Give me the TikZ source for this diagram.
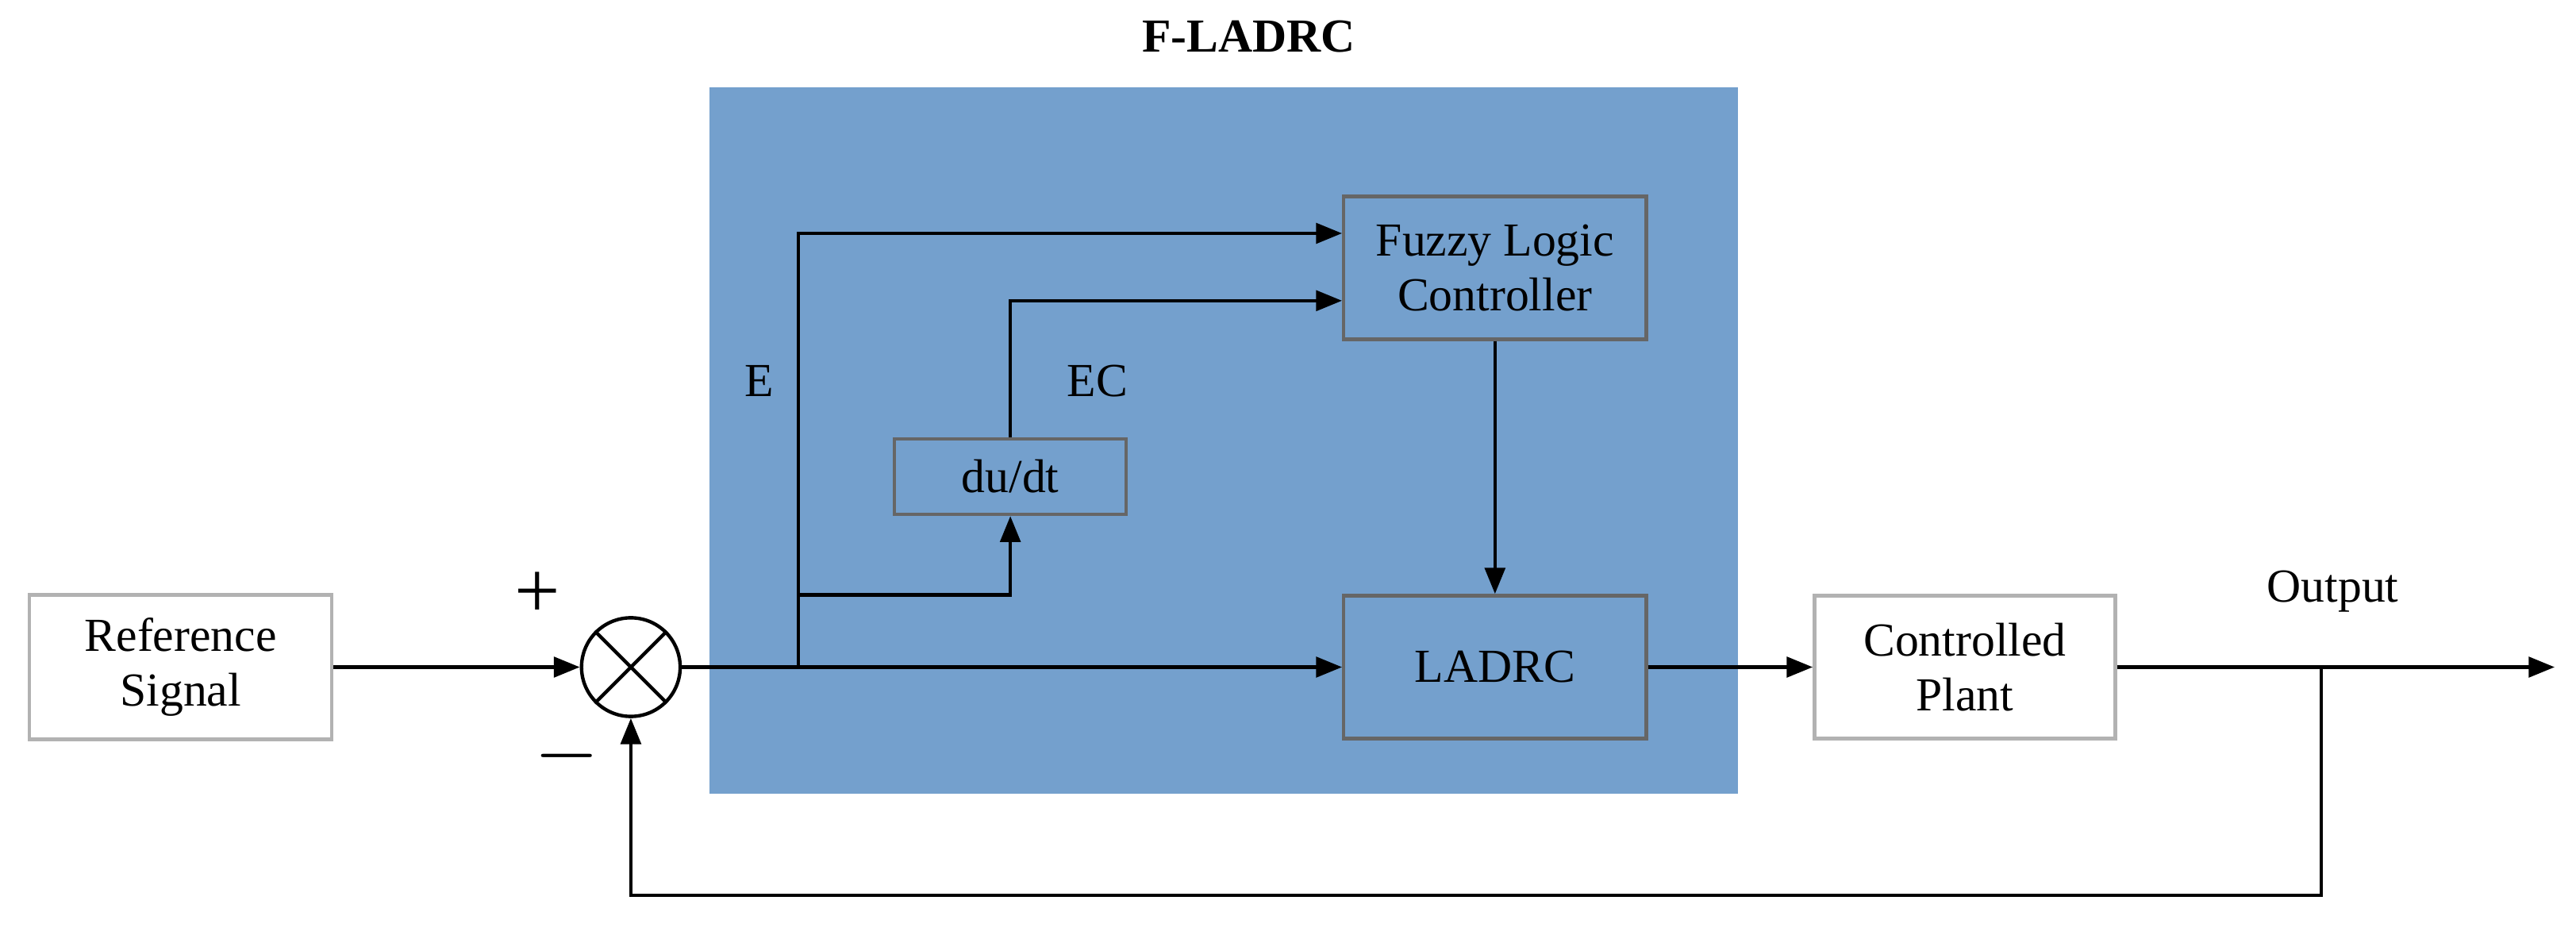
\documentclass[tikz,border=0pt]{standalone}
\usepackage{fontspec}
\setmainfont{Liberation Serif}
\usetikzlibrary{arrows.meta}
\definecolor{bluebg}{RGB}{116,160,205}
\begin{document}
\begin{tikzpicture}[x=0.01cm,y=-0.01cm,
  font=\fontsize{8.2}{9.5}\selectfont,
  line width=0.6pt,
  arr/.style={-{Triangle[length=4.5pt,width=3.5pt]}},
  wbox/.style={draw=gray!60,fill=white,align=center,minimum width=184\pgflinewidth,inner sep=0pt},
  bbox/.style={draw=gray!80!black,fill=bluebg,align=center,inner sep=0pt}]
\useasboundingbox (0,0) rectangle (1568,569);
\fill[bluebg] (432,53) rectangle (1058,483);
\node[font=\fontsize{8.2}{9.5}\selectfont\bfseries] (title) at (760,22) {F-LADRC};
\node[wbox,minimum width=1.84cm,minimum height=0.88cm] (ref) at (110,406) {Reference\\Signal};
\node[draw,circle,minimum size=0.6cm,inner sep=0pt,fill=white] (sum) at (384,406) {};
\draw (sum.north west) -- (sum.south east) (sum.north east) -- (sum.south west);
\node[font=\fontsize{14}{14}\selectfont] (plus) at (327,362) {+};
\node[font=\fontsize{14}{14}\selectfont] (minus) at (345,460) {$-$};
\node[bbox,minimum width=1.84cm,minimum height=0.87cm] (fuzzy) at (910,163) {Fuzzy Logic\\Controller};
\node[bbox,minimum width=1.41cm,minimum height=0.46cm] (dudt) at (615,290) {du/dt};
\node[bbox,minimum width=1.84cm,minimum height=0.87cm] (ladrc) at (910,406) {LADRC};
\node[wbox,minimum width=1.83cm,minimum height=0.87cm] (plant) at (1196,406) {Controlled\\Plant};
\node (out) at (1420,360) {Output};
\node (E) at (462,232) {E};
\node (EC) at (668,232) {EC};
\coordinate (br) at (486,406);
\coordinate (br2) at (486,362);
\coordinate (fb) at (1413,406);
\coordinate (end) at (1555,406);
\draw[arr] (ref) -- (sum);
\draw[arr] (sum) -- (ladrc);
\draw[arr] (br) -- (br2) |- (fuzzy.west |- 0,142);
\draw[arr] (br2) -| (dudt);
\draw[arr] (dudt) |- (fuzzy.west |- 0,183);
\draw[arr] (fuzzy) -- (ladrc);
\draw[arr] (ladrc) -- (plant);
\draw[arr] (plant) -- (end);
\draw[arr] (fb) -- (1413,545) -| (sum);
\end{tikzpicture}
\end{document}
